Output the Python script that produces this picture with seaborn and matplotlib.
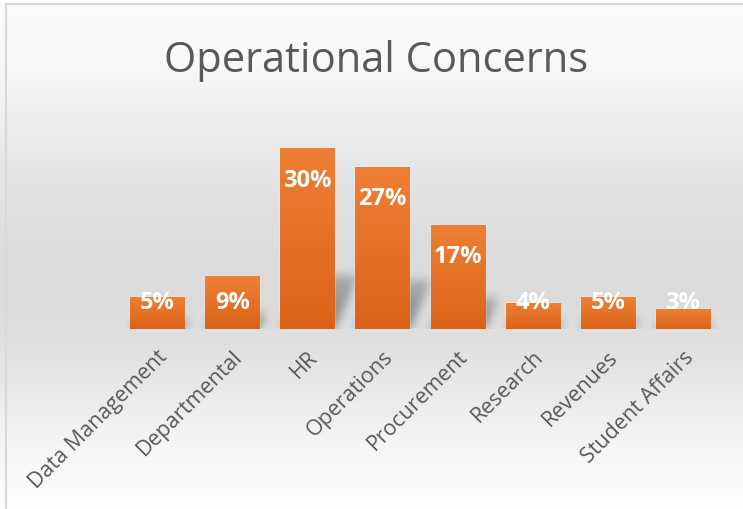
import numpy as np
import matplotlib
matplotlib.use("Agg")
import matplotlib.pyplot as plt
from matplotlib.colors import LinearSegmentedColormap
from matplotlib.lines import Line2D
import seaborn as sns

# chart data (percent of concerns)
categories = ["Data Management", "Departmental", "HR", "Operations",
              "Procurement", "Research", "Revenues", "Student Affairs"]
values = [5.4, 8.8, 30.1, 27.0, 17.3, 4.4, 5.4, 3.4]
title = "Operational Concerns"

sns.set_theme(style="white")
plt.rcParams["font.family"] = ["Open Sans", "DejaVu Sans"]

W, H = 743, 510
fig = plt.figure(figsize=(W / 100, H / 100), dpi=100)

# --- background: vertical grey gradient like the Excel chart area ---
bg = fig.add_axes([0, 0, 1, 1], zorder=0)
stops_y = [0, 5, 60, 110, 180, 250, 300, 340, 390, 440, 490, 510]
stops_v = [255, 252, 249, 240, 228, 220, 219, 223, 233, 244, 252, 255]
rows = np.interp(np.arange(H), stops_y, stops_v) / 255.0
grad_img = np.repeat(rows[:, None], 4, axis=1)
bg.imshow(np.dstack([grad_img] * 3), aspect="auto", extent=[0, 1, 0, 1])
bg.axis("off")

# chart border
fig.add_artist(Line2D([6 / W, 6 / W], [0, 1 - 5 / H], color="#d9d9d9", lw=1.6))
fig.add_artist(Line2D([6 / W, 1], [1 - 5 / H, 1 - 5 / H], color="#d9d9d9", lw=1.6))

# --- plot area ---
ax = fig.add_axes([119.5 / W, 180 / H, 601 / W, 210 / H], zorder=1)
ax.set_facecolor("none")
sns.barplot(x=categories, y=values, color="#E97127", saturation=1,
            width=0.72, ax=ax)
ax.set_xlim(-0.5, len(categories) - 0.5)
ax.set_ylim(0, 35)

# soft shadows behind the bars
xs = np.linspace(-0.5, len(categories) - 0.5, 601)
ys = np.linspace(0, 35, 210)
XX, YY = np.meshgrid(xs, ys)
shadow = np.zeros_like(XX)
for p in ax.patches:
    x0, w, h = p.get_x(), p.get_width(), p.get_height()
    sh = 0.3 * h
    shift = 0.035 * YY
    m = (YY <= sh) & (XX >= x0 + shift) & (XX <= x0 + w + shift)
    shadow = np.maximum(shadow, np.where(m, 1 - YY / max(sh, 1e-6) * 0.5, 0))
k = np.exp(-0.5 * (np.arange(-15, 16) / 4.5) ** 2)
k /= k.sum()
shadow = np.apply_along_axis(lambda r: np.convolve(r, k, mode="same"), 1, shadow)
shadow = np.apply_along_axis(lambda c: np.convolve(c, k, mode="same"), 0, shadow)
rgba = np.zeros(shadow.shape + (4,))
rgba[..., 3] = shadow * 0.42
ax.imshow(rgba, extent=[xs[0], xs[-1], 0, 35], origin="lower",
          aspect="auto", zorder=0.5)

# orange gradient fill on each bar
cmap = LinearSegmentedColormap.from_list("bar", ["#DB6318", "#EE8036"])
grad = np.linspace(0, 1, 256).reshape(-1, 1)
for p in ax.patches:
    x0, y0, w, h = p.get_x(), p.get_y(), p.get_width(), p.get_height()
    im = ax.imshow(grad, extent=[x0, x0 + w, y0, y0 + h], origin="lower",
                   cmap=cmap, aspect="auto", zorder=2)
    im.set_clip_path(p)

ax.set_xlim(-0.5, len(categories) - 0.5)
ax.set_ylim(0, 35)

# data labels (inside end, white bold)
for i, v in enumerate(values):
    ax.text(i, max(v - 5.2, 4.5), f"{v:.0f}%", ha="center", va="center",
            color="white", fontsize=17, fontweight="bold", zorder=3)

ax.set_xticks(range(len(categories)))
ax.set_xticklabels(categories, rotation=45, ha="right",
                   rotation_mode="anchor", fontsize=15.5, color="#595959")
ax.tick_params(axis="x", length=0, pad=12)
ax.set_yticks([])
ax.set_xlabel("")
ax.set_ylabel("")
sns.despine(ax=ax, left=True, bottom=True)

fig.text(376 / W, 1 - 61 / H, title, ha="center", va="center",
         fontsize=30, color="#595959")

fig.savefig("out.png", dpi=100)
